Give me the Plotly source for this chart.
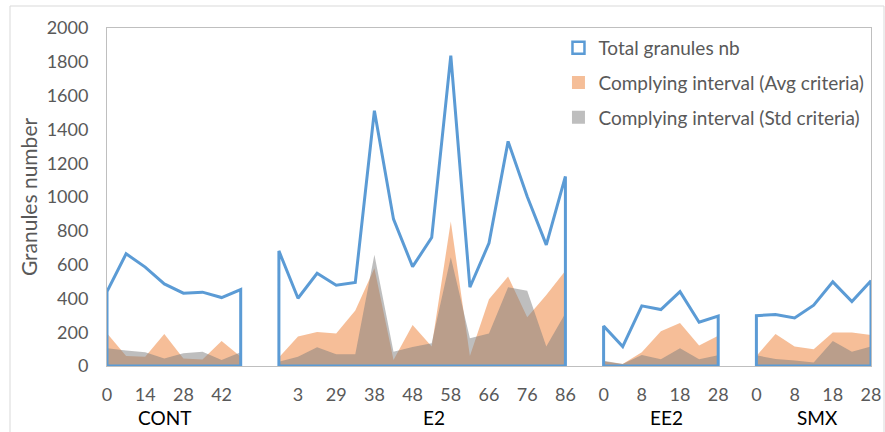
import plotly.graph_objects as go

# ---------------- data ----------------
groups = ["CONT", "E2", "EE2", "SMX"]

cont_days = ["0", "", "14", "", "28", "", "42", ""]
cont_total = [440, 664, 585, 486, 431, 437, 405, 452]
cont_avg = [194, 59, 55, 190, 45, 39, 148, 55]
cont_std = [105, 91, 81, 45, 75, 85, 36, 81]

e2_days = ["", "3", "", "29", "", "38", "", "48", "", "58", "", "66", "", "76", "", "86"]
e2_total = [681, 401, 549, 478, 494, 1511, 869, 588, 760, 1837, 466, 727, 1329, 1003, 717, 1122]
e2_avg = [50, 174, 201, 192, 328, 579, 36, 243, 115, 855, 59, 395, 529, 288, 420, 563]
e2_std = [25, 55, 111, 70, 70, 658, 85, 113, 134, 644, 164, 193, 466, 446, 115, 312]

ee2_days = ["0", "", "8", "", "18", "", "28"]
ee2_total = [237, 115, 356, 334, 440, 259, 296]
ee2_avg = [26, 12, 82, 205, 254, 122, 179]
ee2_std = [31, 12, 65, 40, 105, 40, 63]

smx_days = ["0", "", "8", "", "18", "", "28"]
smx_total = [298, 304, 284, 360, 498, 381, 504]
smx_avg = [59, 190, 115, 99, 198, 198, 184]
smx_std = [63, 41, 32, 20, 148, 85, 115]

days = [cont_days, e2_days, ee2_days, smx_days]
totals = [cont_total, e2_total, ee2_total, smx_total]
avgs = [cont_avg, e2_avg, ee2_avg, smx_avg]
stds = [cont_std, e2_std, ee2_std, smx_std]
label_shift = [-0.5, 0.6, 0.3, 0.2]

# ---------------- styling ----------------
BLUE = "#5B9BD5"
ORANGE_FILL = "rgba(237,125,49,0.5)"
GRAY_FILL = "rgba(125,125,125,0.5)"
TXT = "#595959"
FONT = "Lato"

fig = go.Figure()

# category positions: one empty slot between groups
positions = []
start = 0
for d in days:
    positions.append(list(range(start, start + len(d))))
    start += len(d) + 1
n_cat = positions[-1][-1]

tickvals, ticktext = [], []
for pos, d in zip(positions, days):
    tickvals += pos
    ticktext += d

for pos, a in zip(positions, avgs):
    fig.add_trace(go.Scatter(x=pos, y=a, mode="none", fill="tozeroy",
                             fillcolor=ORANGE_FILL, showlegend=False, hoverinfo="skip"))
for pos, s in zip(positions, stds):
    fig.add_trace(go.Scatter(x=pos, y=s, mode="none", fill="tozeroy",
                             fillcolor=GRAY_FILL, showlegend=False, hoverinfo="skip"))
for pos, t in zip(positions, totals):
    xs = [pos[0]] + pos + [pos[-1], pos[0]]
    ys = [0] + t + [0, 0]
    fig.add_trace(go.Scatter(x=xs, y=ys, mode="lines", fill="toself",
                             fillcolor="rgba(0,0,0,0)",
                             line=dict(color=BLUE, width=3, shape="linear"),
                             showlegend=False, hoverinfo="skip"))

# legend entries
fig.add_trace(go.Scatter(x=[None], y=[None], mode="markers", name="Total granules nb",
                         marker=dict(symbol="square", size=12, color="white",
                                     line=dict(color=BLUE, width=2.5)),
                         legendgroup="a"))
fig.add_trace(go.Scatter(x=[None], y=[None], mode="markers",
                         name="Complying interval (Avg criteria)",
                         marker=dict(symbol="square", size=13, color="#F5BE98"),
                         legendgroup="b"))
fig.add_trace(go.Scatter(x=[None], y=[None], mode="markers",
                         name="Complying interval (Std criteria)",
                         marker=dict(symbol="square", size=13, color="#BEBEBE"),
                         legendgroup="c"))

for g, pos, sh in zip(groups, positions, label_shift):
    cx = (pos[0] + pos[-1]) / 2 + sh
    fig.add_annotation(x=cx, y=-0.152, xref="x", yref="paper", text=g,
                       showarrow=False, font=dict(family=FONT, size=19, color="black"),
                       yanchor="middle")

fig.add_shape(type="rect", xref="paper", yref="paper",
              x0=(10 - 107) / 764, x1=(884 - 107) / 764,
              y0=(366 - 440) / 338, y1=(366 - 6) / 338,
              line=dict(color="#D9D9D9", width=1), fillcolor="rgba(0,0,0,0)", layer="below")

fig.update_layout(
    width=885, height=432,
    margin=dict(l=107, r=14, t=28, b=66, autoexpand=False),
    paper_bgcolor="white", plot_bgcolor="white",
    font=dict(family=FONT, color=TXT),
    legend=dict(x=0.998, y=0.997, xanchor="right", yanchor="top",
                font=dict(family=FONT, size=19, color=TXT),
                bgcolor="rgba(0,0,0,0)", tracegroupgap=7,
                itemwidth=30),
    xaxis=dict(range=[0, n_cat], tickmode="array", tickvals=tickvals, ticktext=ticktext,
               showgrid=False, zeroline=False, showline=True, mirror=True,
               linecolor="#BFBFBF", linewidth=1, ticks="", tickangle=0,
               tickfont=dict(family=FONT, size=18, color=TXT), ticklabelstandoff=12),
    yaxis=dict(range=[0, 2000], dtick=200, showgrid=False, zeroline=False,
               showline=True, mirror=True, linecolor="#BFBFBF", linewidth=1, ticks="",
               tickfont=dict(family=FONT, size=18, color=TXT), ticklabelstandoff=14,
               title=dict(text="Granules number", font=dict(family=FONT, size=21, color=TXT),
                          standoff=3)),
)

fig.write_html("out.html", post_script="document.body.style.margin='0';",
               config={"displayModeBar": False})
